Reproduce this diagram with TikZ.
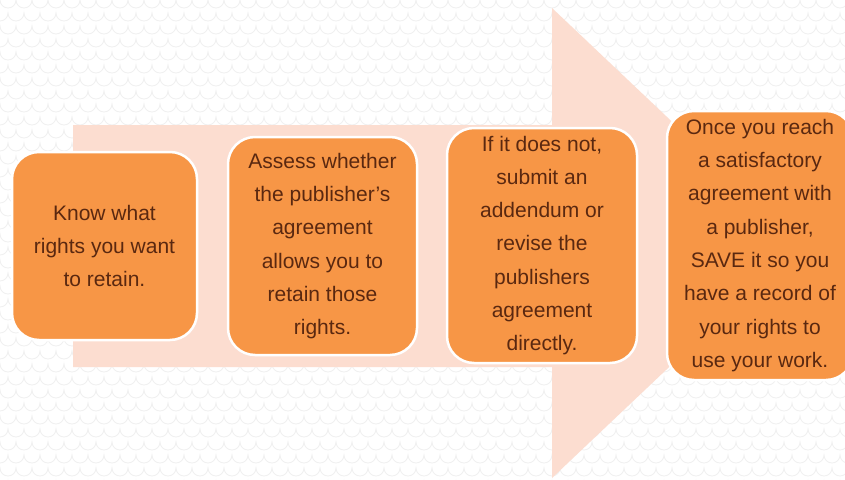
\documentclass[tikz,border=0pt]{standalone}
\usepackage{fontspec}
\setmainfont{Liberation Sans}
\usepackage{xcolor}
\usetikzlibrary{positioning}

\definecolor{boxorange}{HTML}{F79646}
\definecolor{arrowpeach}{HTML}{FCDDD0}
\definecolor{textbrown}{HTML}{5A2810}
\definecolor{bggrey}{HTML}{F0F0F0}

\begin{document}
\begin{tikzpicture}[x=1pt, y=-1pt,
    stepbox/.style={draw=white, line width=2.5pt, fill=boxorange, rounded corners=27pt,
        text=textbrown, align=center, inner sep=0pt,
        font=\fontsize{21}{33.3}\selectfont},
    bgline/.style={bggrey, line width=0.8pt}]
    \useasboundingbox (0,0) rectangle (845,479);
    % Background
    \fill[white] (0,0) rectangle (845,479);
    \foreach \r in {0,...,37} {
        \pgfmathsetmacro\off{mod(\r,2)*8}
        \draw[bgline] (\off-16, \r*13) \foreach \c in {0,...,54} { arc[start angle=180, end angle=0, radius=8] };
    }
    % Big arrow
    \fill[arrowpeach] (73,125) -- (552,125) -- (552,8) -- (800,243)
        -- (552,478) -- (552,367) -- (73,367) -- cycle;
    % Steps
    \node[stepbox, minimum width=185, minimum height=188] (know) at (104.5,246)
        {Know what\\rights you want\\to retain.};
    \node[stepbox, minimum width=189, minimum height=218] (assess) at (322.5,246)
        {Assess whether\\the publisher's\\agreement\\allows you to\\retain those\\rights.};
    \node[stepbox, minimum width=190, minimum height=235] (revise) at (542,245.5)
        {If it does not,\\submit an\\addendum or\\revise the\\publishers\\agreement\\directly.};
    \node[stepbox, minimum width=186, minimum height=269] (save) at (760,245.5)
        {Once you reach\\a satisfactory\\agreement with\\a publisher,\\SAVE it so you\\have a record of\\your rights to\\use your work.};
\end{tikzpicture}
\end{document}
